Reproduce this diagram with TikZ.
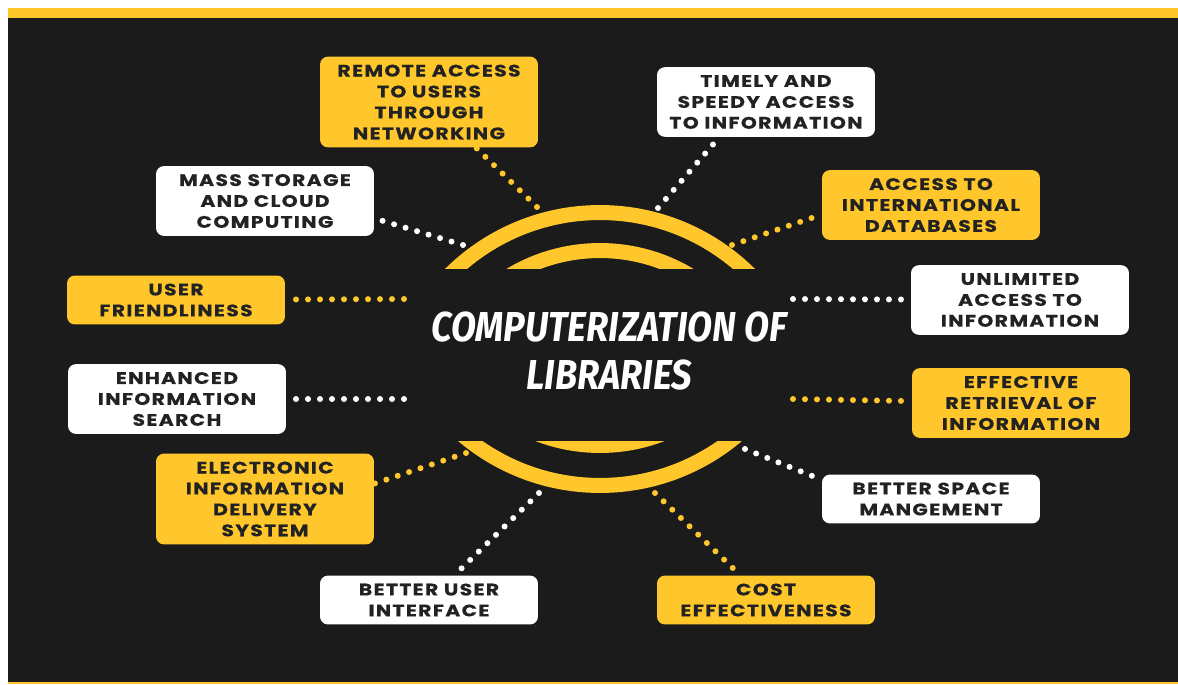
\documentclass[tikz,border=0pt]{standalone}
\usepackage{fontspec}
\setmainfont{Poppins}
\newfontfamily\boxfont[FakeStretch=1.22, LetterSpace=8, FakeBold=0.4]{Poppins}
\newfontfamily\titlefont[FakeStretch=0.87]{Fira Sans}
\definecolor{gold}{HTML}{FFC72C}
\definecolor{night}{HTML}{1B1B1B}
\definecolor{ink}{HTML}{222222}

\begin{document}
\begin{tikzpicture}[x=0.02cm,y=-0.02cm]
	% Styles
	\tikzstyle{card} = [rectangle, rounded corners=4.5pt, minimum width=4.36cm, inner xsep=0pt, inner ysep=0.16cm, align=center, text=ink, font=\boxfont\bfseries\fontsize{9.5}{11.9}\selectfont]
	\tikzstyle{goldcard} = [card, fill=gold]
	\tikzstyle{whitecard} = [card, fill=white]
	\tikzstyle{golddots} = [draw=gold, line width=0.12cm, line cap=round, dash pattern=on 0pt off 0.24cm]
	\tikzstyle{whitedots} = [golddots, draw=white]
	\tikzstyle{band} = [draw=gold, line width=0.3cm]
	% Frame
	\fill[white] (0,0) rectangle (1178,684);
	\fill[night] (8,18) rectangle (1178,682);
	\fill[gold] (8,8) rectangle (1178,18);
	\fill[gold] (8,682) rectangle (1178,684);
	% Arcs around the title
	\begin{scope}
		\clip (300,150) rectangle (900,268);
		\draw[band] (600,425) circle (4.25cm);
		\draw[band] (600,425) circle (3.49cm);
	\end{scope}
	\begin{scope}
		\clip (300,441) rectangle (900,520);
		\draw[band] (600,273) circle (4.25cm);
		\fill[gold] (600,273) circle (3.6cm);
	\end{scope}
	% Title
	\node (title) [align=center, text=white, font=\titlefont\bfseries\itshape\fontsize{23.8}{27.8}\selectfont] at (609,351) {COMPUTERIZATION OF\\LIBRARIES};
	% Nodes
	\node (remote) [goldcard] at (429,102) {REMOTE ACCESS\\TO USERS\\THROUGH\\NETWORKING};
	\node (timely) [whitecard] at (766,102) {TIMELY AND\\SPEEDY ACCESS\\TO INFORMATION};
	\node (storage) [whitecard] at (265,201) {MASS STORAGE\\AND CLOUD\\COMPUTING};
	\node (intl) [goldcard] at (931,205) {ACCESS TO\\INTERNATIONAL\\DATABASES};
	\node (friendly) [goldcard] at (176,300) {USER\\FRIENDLINESS};
	\node (unlimited) [whitecard] at (1020,300) {UNLIMITED\\ACCESS TO\\INFORMATION};
	\node (search) [whitecard] at (177,399) {ENHANCED\\INFORMATION\\SEARCH};
	\node (retrieval) [goldcard] at (1021,403) {EFFECTIVE\\RETRIEVAL OF\\INFORMATION};
	\node (delivery) [goldcard] at (265,499) {ELECTRONIC\\INFORMATION\\DELIVERY\\SYSTEM};
	\node (space) [whitecard] at (931,499) {BETTER SPACE\\MANGEMENT};
	\node (interface) [whitecard] at (429,600) {BETTER USER\\INTERFACE};
	\node (cost) [goldcard] at (766,600) {COST\\EFFECTIVENESS};
	% Inner ends of the dotted lines
	\coordinate (remote-end) at (537,207);
	\coordinate (timely-end) at (658,208);
	\coordinate (storage-end) at (463,245);
	\coordinate (intl-end) at (732,245);
	\coordinate (friendly-end) at (404,299);
	\coordinate (unlimited-end) at (793,299);
	\coordinate (search-end) at (404,399);
	\coordinate (retrieval-end) at (793,399);
	\coordinate (delivery-end) at (466,453);
	\coordinate (space-end) at (745,449);
	\coordinate (interface-end) at (539,493);
	\coordinate (cost-end) at (655,493);
	% Dotted lines
	\draw [golddots] (remote-end) -- (remote);
	\draw [whitedots] (timely-end) -- (timely.217);
	\draw [whitedots] (storage-end) -- (storage.-9);
	\draw [golddots] (intl-end) -- (intl.185);
	\draw [golddots] (friendly-end) -- (friendly);
	\draw [whitedots] (unlimited-end) -- (unlimited);
	\draw [whitedots] (search-end) -- (search);
	\draw [golddots] (retrieval-end) -- (retrieval);
	\draw [golddots] (delivery-end) -- (delivery.8);
	\draw [whitedots] (space-end) -- (space.170);
	\draw [whitedots] (interface-end) -- (interface);
	\draw [golddots] (cost-end) -- (cost);
\end{tikzpicture}
\end{document}
